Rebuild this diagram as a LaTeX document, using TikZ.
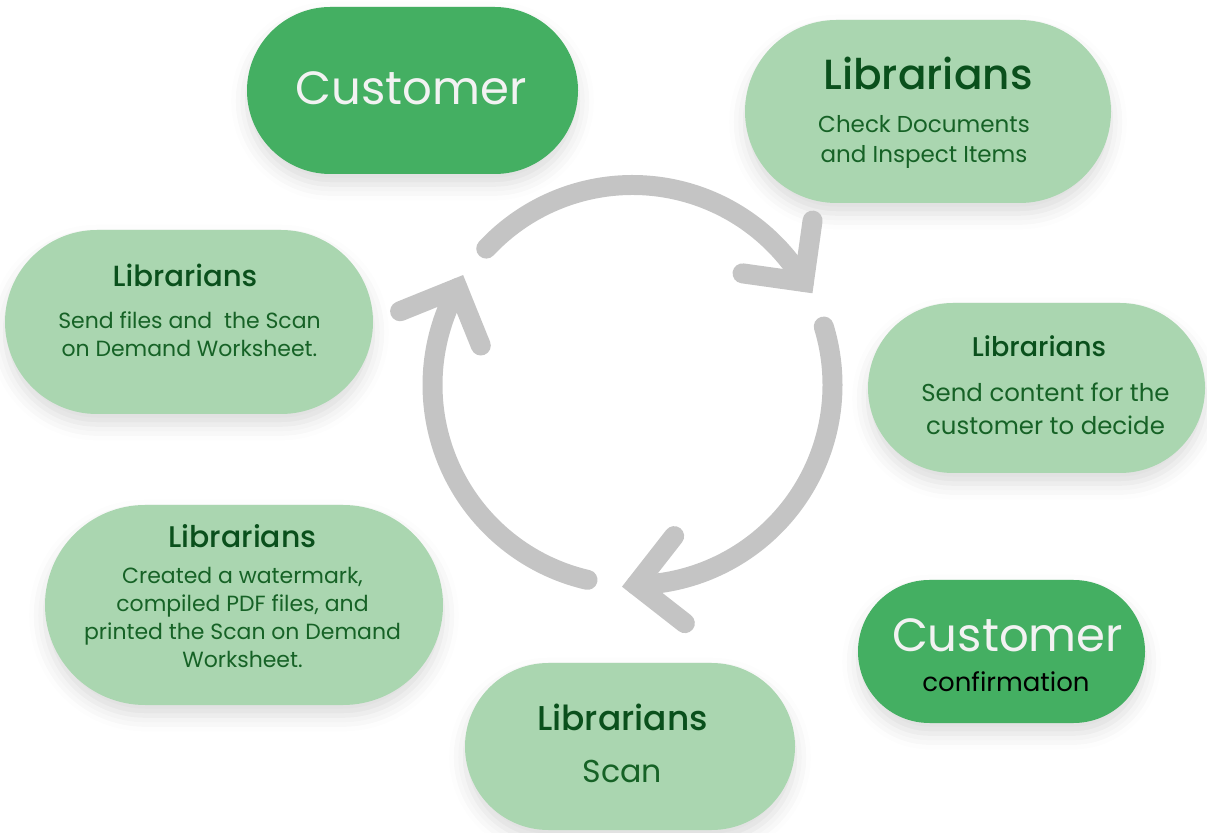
\documentclass[tikz,border=0pt]{standalone}
\usepackage{fontspec}
\setmainfont{Poppins}
\newfontfamily\headfont{Poppins}[UprightFont={* Medium}]
\usetikzlibrary{shapes.misc,shadows.blur,calc}

\definecolor{pilldark}{RGB}{68,175,98}
\definecolor{pilllight}{RGB}{170,214,176}
\definecolor{headgreen}{RGB}{10,80,28}
\definecolor{bodygreen}{RGB}{22,98,38}
\definecolor{cyclegray}{RGB}{196,196,196}

\tikzset{
  pill/.style 2 args={rounded rectangle, inner sep=0pt, minimum width=#1*0.02cm, minimum height=#2*0.02cm,
    blur shadow={shadow xshift=0pt, shadow yshift=-6pt, shadow blur radius=9pt, shadow opacity=14}},
  darkpill/.style={fill=pilldark},
  lightpill/.style={fill=pilllight},
  heading/.style={anchor=base, inner sep=0pt, text=headgreen, font=\headfont\fontsize{#1}{#1}\selectfont},
  bodytext/.style 2 args={anchor=base, inner sep=0pt, align=center, text=bodygreen, font=\fontsize{#1}{#2}\selectfont},
  custtext/.style={anchor=base, inner sep=0pt, text=white!95!black, font=\fontsize{26.5}{26.5}\selectfont},
  cycarrow/.style={draw=cyclegray, line width=0.4cm, line cap=round},
}

\begin{document}
\begin{tikzpicture}[x=0.02cm, y=0.02cm]
  \useasboundingbox (0,0) rectangle (1207,832);

  % pills
  \node[pill={331}{167}, darkpill] (cust1) at (412.5,741.5) {};
  \node[pill={366}{183}, lightpill] (libA) at (928,720.5) {};
  \node[pill={368}{184}, lightpill] (libB) at (189,510) {};
  \node[pill={337}{170}, lightpill] (libC) at (1036.5,444) {};
  \node[pill={398}{200}, lightpill] (libD) at (244,227) {};
  \node[pill={287}{143}, darkpill] (cust2) at (1001.5,180.5) {};
  \node[pill={330}{167}, lightpill] (libE) at (630,85.5) {};

  % cycle in the middle
  \coordinate (mid) at (632.5,447);
  \foreach \s/\e in {137/31, 17/-89, -103/-209} {
    \draw[cycarrow] ($(mid)+(\s:200)$) arc[start angle=\s, end angle=\e, radius=200];
    \coordinate (tip) at ($(mid)+(\e:200)$);
    \draw[cycarrow, line join=miter] ($(tip)+(\e+141:62)$) -- (tip) -- ($(tip)+(\e+51:62)$);
  }

  % texts (multi-line bodies sit on their last baseline)
  \node[custtext] (cust1t) at (411,727) {Customer};

  \node[heading=24] (libAh) at (928,742) {Librarians};
  \node[bodytext={13.1}{17.3}] (libAb) at (924,669) {Check Documents\\and Inspect Items};

  \node[heading=16.6] (libBh) at (185,545) {Librarians};
  \node[bodytext={12.5}{16.5}] (libBb) at (189.5,475) {Send files and \ the Scan\\on Demand Worksheet.};

  \node[heading=15.4] (libCh) at (1039,475) {Librarians};
  \node[bodytext={13.9}{18.8}] (libCb) at (1045.5,397) {Send content for the\\customer to decide};

  \node[heading=17] (libDh) at (242.5,284) {Librarians};
  \node[bodytext={12.5}{16.1}] (libDb) at (242.5,164) {Created a watermark,\\compiled PDF files, and\\printed the Scan on Demand\\Worksheet.};

  \node[custtext] (cust2t) at (1007.5,180) {Customer};
  \node[anchor=base, inner sep=0pt, font=\fontsize{14.8}{14.8}\selectfont] (cust2b) at (1006,140) {confirmation};

  \node[heading=19.6] (libEh) at (622.5,102) {Librarians};
  \node[bodytext={18}{18}] (libEb) at (622.5,50) {Scan};
\end{tikzpicture}
\end{document}
